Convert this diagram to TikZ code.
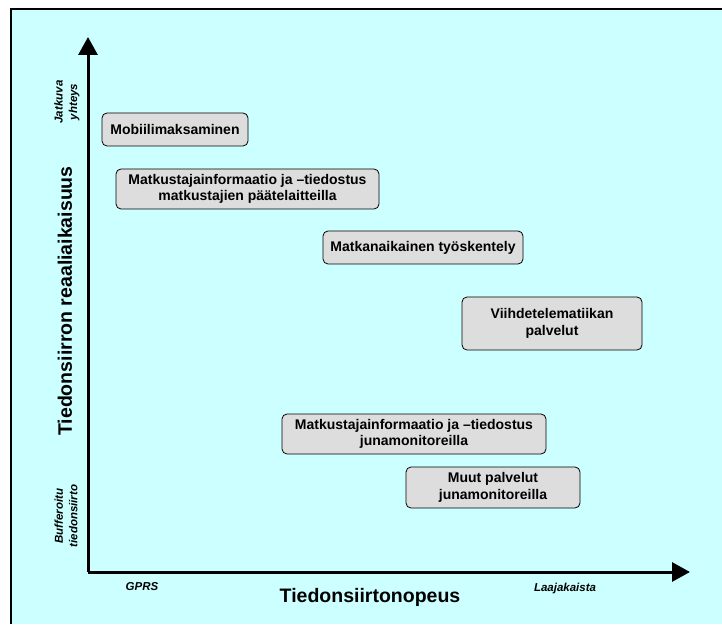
\documentclass[tikz,border=0pt]{standalone}
\usepackage{fontspec}
\setmainfont{Liberation Sans}
\usetikzlibrary{arrows.meta}
\definecolor{bgcyan}{HTML}{CCFFFF}
\definecolor{boxgray}{HTML}{DDDDDD}
\begin{document}
\begin{tikzpicture}[x=1pt, y=1pt,
	infobox/.style={draw, thick, rounded corners=5pt, fill=boxgray, align=center, inner sep=2pt,
		font=\fontsize{14}{16.5}\selectfont\bfseries},
	axistitle/.style={font=\fontsize{19.5}{22}\selectfont\bfseries},
	endlabel/.style={align=center, font=\fontsize{11.5}{14.5}\selectfont\bfseries\itshape},
	axisline/.style={line width=3pt, -{Triangle[length=18pt, width=19pt]}}]
	\useasboundingbox (0,0) rectangle (722,624);
	%background
	\fill[bgcyan] (11,0) rectangle (722,615);
	\draw[line width=2pt] (11,0) -- (11,615) -- (722,615);
	
	%axes
	\coordinate (corner) at (88,52);
	\coordinate (ytip) at (88,587);
	\coordinate (xtip) at (690,52);
	\draw[axisline] (corner) -- (ytip);
	\draw[axisline] (corner) -- (xtip);
	
	\node[axistitle, rotate=90] (ytitle) at (65,323) {Tiedonsiirron reaaliaikaisuus};
	\node[axistitle] (xtitle) at (370,27) {Tiedonsiirtonopeus};
	\node[endlabel, rotate=90] (ytop) at (67,522) {Jatkuva\\yhteys};
	\node[endlabel, rotate=90] (ybottom) at (66,108) {Bufferoitu\\tiedonsiirto};
	\node[endlabel] (xleft) at (142,37) {GPRS};
	\node[endlabel] (xright) at (565,35) {Laajakaista};
	
	%services
	\node[infobox, minimum width=146, minimum height=33] (mobile) at (175,494.5) {Mobiilimaksaminen};
	\node[infobox, minimum width=263, minimum height=40] (infoterminal) at (247.5,435) {Matkustajainformaatio ja –tiedostus\\matkustajien päätelaitteilla};
	\node[infobox, minimum width=200, minimum height=33] (work) at (423,376.5) {Matkanaikainen työskentely};
	\node[infobox, minimum width=180, minimum height=53] (infotain) at (552,300.5) {Viihdetelematiikan\\palvelut};
	\node[infobox, minimum width=264, minimum height=40] (infomonitor) at (414,190) {Matkustajainformaatio ja –tiedostus\\junamonitoreilla};
	\node[infobox, minimum width=174, minimum height=41] (other) at (493,136.5) {Muut palvelut\\junamonitoreilla};
\end{tikzpicture}
\end{document}
